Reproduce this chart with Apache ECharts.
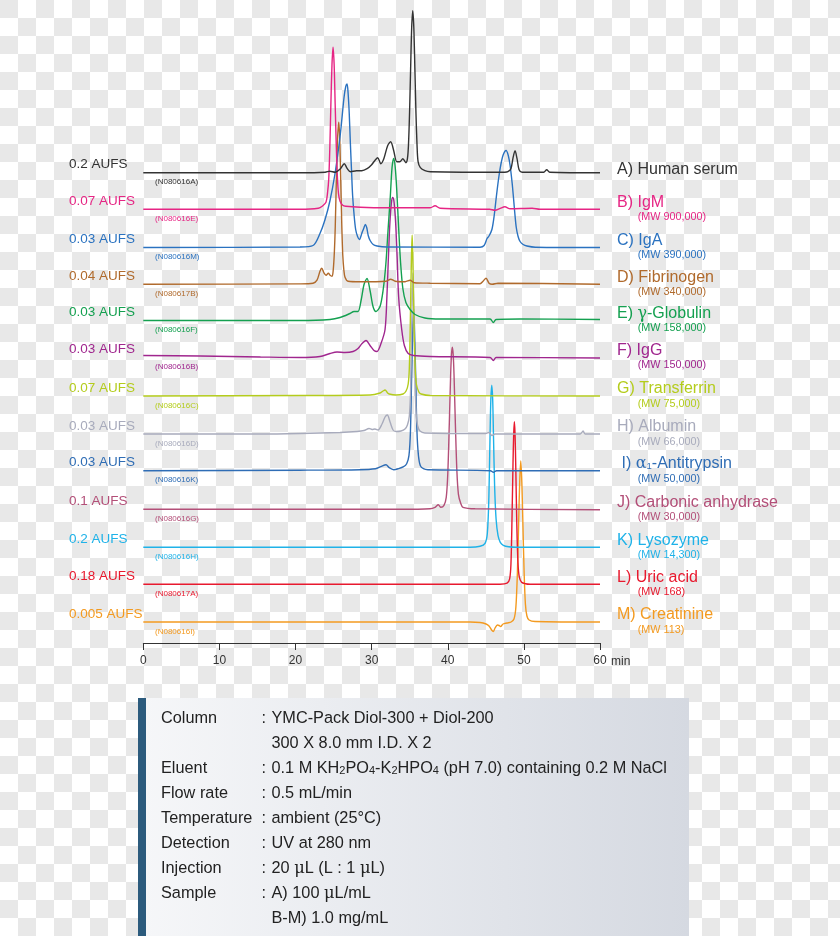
<!DOCTYPE html>
<html><head><meta charset="utf-8">
<script src="https://cdn.jsdelivr.net/npm/echarts@6.0.0/dist/echarts.min.js"></script>
<style>
html,body{margin:0;padding:0;background:#fff;}
#c{width:840px;height:936px;background:repeating-conic-gradient(#fff 0% 25%, #e8e8e8 0% 50%) 0 0/36px 36px;}
</style></head><body><div id="c"></div>
<script>
// ---- data: [time (min), detector response (relative units)] ----
const traceA = [[0,0],[20.6,0],[23.9,0.5],[24.5,1.5],[25.2,0.5],[25.9,4],[26.4,9],[26.8,4],[27.2,1],[28.0,2],[28.7,2],[29.4,4],[30.0,8],[30.5,13],[30.8,15],[31.2,9],[31.6,14],[32.1,27],[32.5,31],[32.9,22],[33.3,11],[33.7,11],[34.1,14],[34.5,10],[34.7,14],[34.84,28],[34.98,60],[35.12,104],[35.26,145],[35.4,162],[35.54,145],[35.68,104],[35.82,60],[35.96,28],[36.1,11],[36.4,5],[37.0,2],[37.7,1],[47.5,0.5],[47.9,1],[48.3,4],[48.58,15],[48.84,22],[49.1,14],[49.37,3],[49.76,0.5],[52.6,0.5],[53.0,3],[53.4,0.5],[60,0]];
const traceB = [[0,0],[20.6,0],[23.0,1],[23.5,3],[24.0,7],[24.21,17],[24.36,30],[24.5,60],[24.64,104],[24.79,145],[24.93,162],[25.07,145],[25.21,104],[25.36,62],[25.5,32],[25.64,16],[25.85,8],[26.2,4],[26.6,3],[28.5,2],[32,1.5],[37.7,1.5],[38.33,3.5],[39.0,1],[45.5,0],[46.2,-1],[46.9,1],[47.5,2.5],[48.2,0.5],[51.1,1],[52.1,0],[60,0]];
const traceC = [[0,0],[20.59,0.5],[22.3,2],[23.21,14],[23.88,28],[24.53,47],[25.19,74],[25.72,103],[25.98,120],[26.37,150],[26.6,161],[26.77,163.5],[26.9,155],[27.05,135],[27.2,105],[27.35,78],[27.5,52],[27.7,32],[27.9,18],[28.15,11],[28.4,8],[28.7,14],[29.0,20],[29.17,23],[29.35,20],[29.55,12],[29.8,7],[30.2,3],[30.7,1.5],[32,0.5],[44.24,0.3],[44.77,2],[45.16,9],[45.42,11.5],[45.8,18],[46.1,32],[46.4,52],[46.7,70],[47.0,84],[47.3,93],[47.66,97],[47.95,92],[48.19,82],[48.45,65],[48.62,51],[48.8,35],[49.0,20],[49.24,11],[49.5,6],[49.9,3],[50.4,1.5],[51.5,0.3],[60,0]];
const traceD = [[0,0],[20.59,0.3],[22.3,1],[22.82,4],[23.21,13],[23.44,16],[23.75,11],[24.01,9],[24.31,11],[24.53,9],[24.8,8],[24.95,14],[25.1,32],[25.22,58],[25.35,100],[25.52,145],[25.68,162],[25.81,145],[25.94,104],[26.08,58],[26.2,30],[26.35,14],[26.5,7],[26.9,3],[28.5,2.5],[31.9,3],[32.5,5],[33.1,3],[34.4,2.5],[35.05,4],[35.6,1.5],[37.7,1],[44.24,0.5],[44.64,3],[45.03,6],[45.42,1],[45.82,0],[46.6,1],[60,0]];
const traceE = [[0,0],[20.59,0],[24.53,1],[25.85,3],[27.16,7],[27.69,9],[28.21,9],[28.61,20],[29.0,36],[29.39,42],[29.79,30],[30.18,14],[30.57,9],[31.1,14],[31.5,30],[31.85,55],[32.15,90],[32.45,124],[32.68,153],[32.9,162],[33.1,153],[33.3,130],[33.55,92],[33.8,58],[34.1,32],[34.5,18],[35.05,11],[35.7,6],[37.0,2.5],[39.0,1.5],[45.56,1.5],[45.99,-2],[46.35,1],[49.5,1.5],[60,1]];
const traceF = [[0,2],[7.5,1.5],[15.4,0.5],[20.59,0],[23.21,1],[24.53,4],[25.45,5.5],[26.5,5],[27.56,6],[28.21,9],[28.74,14],[29.26,17],[29.79,12],[30.31,7],[30.7,6],[31.23,14],[31.76,28],[32.0,60],[32.2,100],[32.4,135],[32.6,155],[32.77,160],[32.95,155],[33.15,135],[33.35,100],[33.55,60],[33.95,28],[34.3,12],[34.8,4],[35.5,2],[37.67,1],[45.56,0],[45.99,-3],[46.35,0],[60,-0.5]];
const traceG = [[0,0],[20.59,0.5],[29.8,1],[31.1,3],[31.5,5],[31.76,6],[32.1,3],[32.3,2],[33.2,1],[34.12,2],[34.52,5],[34.8,12],[34.95,28],[35.07,70],[35.17,115],[35.25,145],[35.32,161],[35.39,145],[35.47,115],[35.57,70],[35.72,28],[35.87,12],[36.2,4],[36.5,2],[37.7,0.5],[60,0]];
const traceH = [[0,0],[15.4,0],[20.59,0.5],[25.85,1.5],[28.1,2.5],[29.0,3.5],[29.66,5.5],[30.05,4.5],[30.44,5],[30.84,4],[31.36,10],[31.76,17],[32.06,19],[32.42,12],[32.81,4],[33.2,2.5],[33.86,3],[34.38,5],[34.7,9],[34.95,18],[35.12,45],[35.24,100],[35.34,140],[35.42,161],[35.5,140],[35.6,100],[35.72,45],[35.87,18],[36.05,8],[36.35,3],[37.0,1],[45.0,0.5],[45.4,1.5],[45.8,-1.5],[46.2,0],[57.4,0],[57.78,3],[58.04,0],[60,0]];
const traceI = [[0,0],[20.59,0.5],[28.5,1],[30.5,2],[31.2,4],[31.89,6],[32.3,3],[32.9,1],[33.5,2],[34.2,4],[34.6,7],[34.9,15],[35.1,40],[35.27,100],[35.42,145],[35.52,162],[35.62,145],[35.77,100],[35.95,40],[36.15,15],[36.4,5],[36.8,2],[37.4,1],[45.6,0],[46.0,-1.5],[46.4,0],[60,0]];
const traceJ = [[0,0],[33.7,0],[37.67,0.5],[38.33,2],[38.76,4.5],[39.1,2],[39.5,4],[39.8,12],[40.0,35],[40.2,85],[40.38,135],[40.49,155],[40.6,162],[40.71,155],[40.82,135],[41.0,85],[41.2,38],[41.4,15],[41.7,6],[42.0,2],[43.6,0.5],[60,-0.5]];
const traceK = [[0,0],[42.93,0],[44.24,1],[44.9,4],[45.2,14],[45.4,50],[45.55,110],[45.66,148],[45.78,162],[45.9,148],[46.01,110],[46.16,60],[46.35,28],[46.6,12],[46.9,5],[47.3,2],[48.0,0.5],[49.0,0],[60,0]];
const traceL = [[0,0],[46.87,0],[47.79,1],[48.12,5],[48.3,20],[48.45,70],[48.57,120],[48.66,150],[48.75,162.5],[48.84,150],[48.94,115],[49.07,60],[49.22,22],[49.4,7],[49.7,2],[50.2,0.5],[50.81,0],[60,0]];
const traceM = [[0,0],[42.93,0],[44.24,-0.5],[45.03,-2],[45.42,-4],[45.76,-8],[45.99,-9.5],[46.21,-6],[46.52,-3],[46.74,-3.5],[46.94,-4.5],[47.27,-2],[47.79,-1],[48.32,0],[48.7,3],[48.95,15],[49.15,50],[49.3,95],[49.45,140],[49.59,161],[49.73,140],[49.88,95],[50.03,50],[50.2,18],[50.4,6],[50.68,2],[51.47,0.5],[60,0]];

const traces = [traceA,traceB,traceC,traceD,traceE,traceF,traceG,traceH,traceI,traceJ,traceK,traceL,traceM];
const aufs = ['0.2 AUFS','0.07 AUFS','0.03 AUFS','0.04 AUFS','0.03 AUFS','0.03 AUFS','0.07 AUFS','0.03 AUFS','0.03 AUFS','0.1 AUFS','0.2 AUFS','0.18 AUFS','0.005 AUFS'];
const codes = ['(N080616A)','(N080616E)','(N080616M)','(N080617B)','(N080616F)','(N080616B)','(N080616C)','(N080616D)','(N080616K)','(N080616G)','(N080616H)','(N080617A)','(N080616I)'];
const sampleNames = ['A) Human serum','B) IgM','C) IgA','D) Fibrinogen','E) {g|γ}-Globulin','F) IgG','G) Transferrin','H) Albumin','I) {g|α}{s|1}-Antitrypsin','J) Carbonic anhydrase','K) Lysozyme','L) Uric acid','M) Creatinine'];
const mw = ['','(MW 900,000)','(MW 390,000)','(MW 340,000)','(MW 158,000)','(MW 150,000)','(MW 75,000)','(MW 66,000)','(MW 50,000)','(MW 30,000)','(MW 14,300)','(MW 168)','(MW 113)'];
const xTicks = [0,10,20,30,40,50,60];
const conditions = [
  ['Column','YMC-Pack Diol-300 + Diol-200'],
  ['','300 X 8.0 mm I.D. X 2'],
  ['Eluent','0.1 M KH{s|2}PO{s|4}-K{s|2}HPO{s|4} (pH 7.0) containing 0.2 M NaCl'],
  ['Flow rate','0.5 mL/min'],
  ['Temperature','ambient (25°C)'],
  ['Detection','UV at 280 nm'],
  ['Injection','20 {g|μ}L (L : 1 {g|μ}L)'],
  ['Sample','A) 100 {g|μ}L/mL'],
  ['','B-M) 1.0 mg/mL']
];

// ---- layout / style ----
const offsets = [470.3,433.7,395.5,358.8,322.5,285.5,247,209,172.3,133.7,95.7,58.8,21];
const colors = ['#333333','#e62584','#2a72c0','#b06a2c','#14a050','#a0268e','#b4cc1c','#a8abbc','#2f6db5','#b34f78','#1fb2e8','#e8192e','#f39a20'];
const FONT = '"Liberation Sans", Arial, Helvetica, sans-serif';

const chart = echarts.init(document.getElementById('c'), null, {renderer:'canvas'});
const series = traces.map((d,i)=>({
  type:'line', name: codes[i],
  data: d.map(p=>[p[0], p[1]+offsets[i]]),
  showSymbol:false, symbol:'none', smooth:0.3, silent:true,
  lineStyle:{color:colors[i], width:1.4},
  z: 30 - i
}));
chart.setOption({
  animation:false,
  backgroundColor:'transparent',
  textStyle:{fontFamily:FONT},
  grid:{left:143.3, right:240, top:0, bottom:293, containLabel:false},
  xAxis:{type:'value', min:0, max:60, interval:10,
    axisLine:{show:true, onZero:false, lineStyle:{color:'#333', width:1}},
    axisTick:{show:true, length:7, lineStyle:{color:'#333'}},
    axisLabel:{color:'#333', fontSize:12, margin:12, fontFamily:FONT,
      formatter:v=> xTicks.indexOf(v)>=0 ? String(v) : ''},
    splitLine:{show:false}},
  yAxis:{type:'value', min:0, max:643, show:false},
  series
});

const g = [];
offsets.forEach((off,i)=>{
  const yb = chart.convertToPixel({gridIndex:0},[0,off])[1];
  g.push({type:'text', x:69, y:yb-8, z:50, style:{text:aufs[i], fill:colors[i], font:'13.5px '+FONT, align:'left', verticalAlign:'middle'}});
  g.push({type:'text', x:155, y:yb+9.5, z:50, style:{text:codes[i], fill:colors[i], font:'8px '+FONT, align:'left', verticalAlign:'middle'}});
  const nx = i===8 ? 621.5 : 617;
  g.push({type:'text', x:nx, y: i===0 ? yb-3 : yb-7, z:50, style:{text:sampleNames[i], fill:colors[i], font:'16px '+FONT, align:'left', verticalAlign:'middle',
     rich:{g:{fontSize:16, fontFamily:'"DejaVu Serif", serif', fill:colors[i]}, s:{fontSize:9.5, fill:colors[i], verticalAlign:'bottom', lineHeight:9, padding:[6,0,0,0]}}}});
  if (mw[i]) g.push({type:'text', x:637.7, y:yb+8, z:50, style:{text:mw[i], fill:colors[i], font:'10.8px '+FONT, align:'left', verticalAlign:'middle'}});
});
g.push({type:'text', x:611, y:662, z:50, style:{text:'min', fill:'#333', font:'12px '+FONT, align:'left', verticalAlign:'middle'}});

// conditions box
g.push({type:'rect', z:40, shape:{x:138,y:698,width:551,height:240},
  style:{fill:new echarts.graphic.LinearGradient(0,0,1,0,[{offset:0,color:'#f6f7f9'},{offset:1,color:'#d5d9e1'}])}});
g.push({type:'rect', z:41, shape:{x:138,y:698,width:8,height:240}, style:{fill:'#2c5b7d'}});
conditions.forEach((row,k)=>{
  const y = 718.5 + 25*k;
  if (row[0]) {
    g.push({type:'text', x:161, y, z:45, style:{text:row[0], fill:'#222', font:'16.3px '+FONT, align:'left', verticalAlign:'middle'}});
    g.push({type:'text', x:261.5, y, z:45, style:{text:':', fill:'#222', font:'16.3px '+FONT, align:'left', verticalAlign:'middle'}});
  }
  g.push({type:'text', x:271.5, y, z:45, style:{text:row[1], fill:'#222', font:'16.3px '+FONT, align:'left', verticalAlign:'middle',
    rich:{s:{fontSize:11, fill:'#222', verticalAlign:'bottom', lineHeight:10, padding:[6,0,0,0]}, g:{fontSize:16.3, fill:'#222', fontFamily:'"DejaVu Serif", serif'}}}});
});
chart.setOption({graphic:g});
</script></body></html>
